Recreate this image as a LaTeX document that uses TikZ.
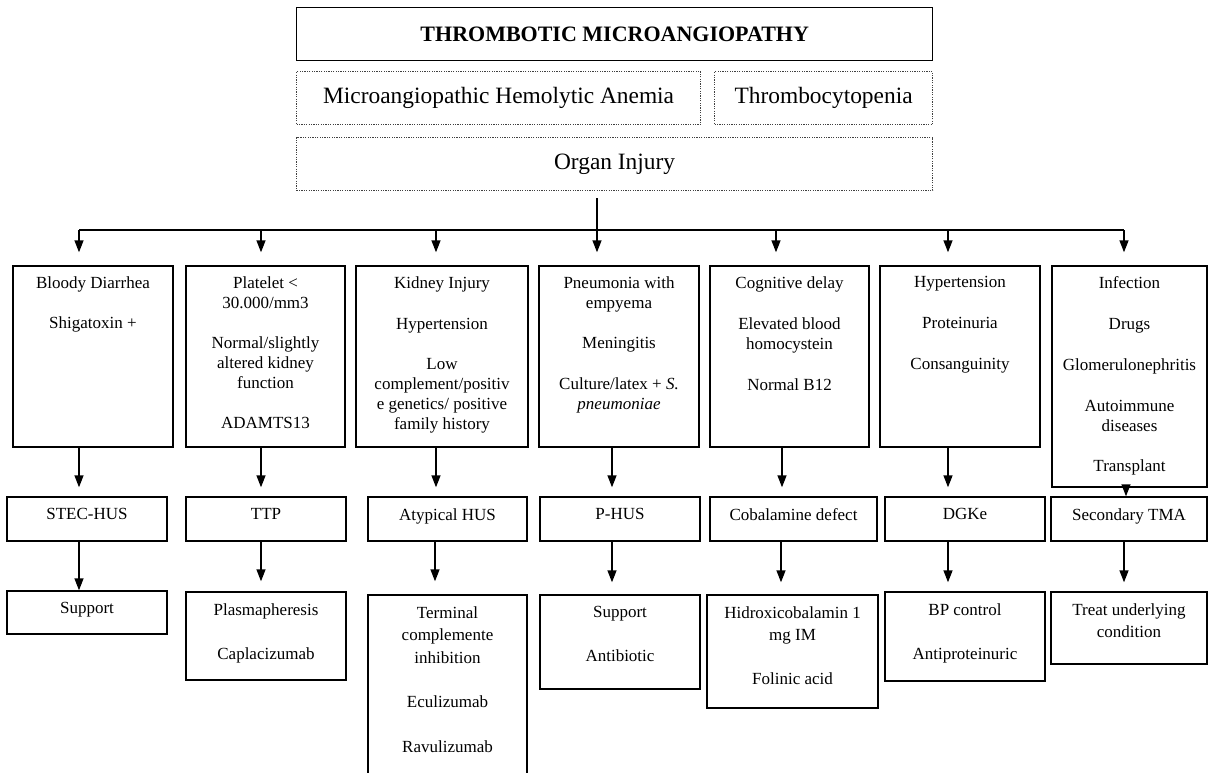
\documentclass[tikz,border=0pt]{standalone}
\usepackage{fontspec}
\setmainfont{Liberation Serif}
\usetikzlibrary{fit,arrows.meta}

\begin{document}
\begin{tikzpicture}[x=0.5pt, y=-0.5pt,
    box/.style={draw, line width=0.7pt, inner sep=0pt},
    dotbox/.style={draw=black!75, line width=0.6pt,
                   dash pattern=on 0.6pt off 0.6pt, inner sep=0pt},
    hdr/.style={anchor=north west, minimum height=26.5pt,
                font=\fontsize{11.7}{13}\selectfont},
    txt/.style={font=\fontsize{8.5}{10}\selectfont, align=center,
                anchor=north, inner sep=0pt},
    txtb/.style={txt, font=\fontsize{8.5}{11.2}\selectfont},
    arr/.style={line width=0.7pt, -{Triangle[width=4.5pt,length=6pt]}}]
\useasboundingbox (0,0) rectangle (1209,772);

% header
\node[box, hdr, minimum width=318pt,
      font=\bfseries\fontsize{11}{13}\selectfont] (tma) at (296,7) {THROMBOTIC MICROANGIOPATHY};
\node[dotbox, hdr, minimum width=202pt] (maha) at (296,71) {Microangiopathic Hemolytic Anemia};
\node[dotbox, hdr, minimum width=109pt] (thr) at (714,71) {Thrombocytopenia};
\node[dotbox, hdr, minimum width=318pt] (organ) at (296,137) {Organ Injury};

% clinical findings
\node[box, fit={(13,266) (173,447)}] (b1) {};
\node[box, fit={(186,266) (345,447)}] (b2) {};
\node[box, fit={(356,266) (528,447)}] (b3) {};
\node[box, fit={(539,266) (699,447)}] (b4) {};
\node[box, fit={(710,266) (869,447)}] (b5) {};
\node[box, fit={(880,266) (1040,447)}] (b6) {};
\node[box, fit={(1052,266) (1207,487)}] (b7) {};

\node[txt] (tb1) at ([yshift=-5.5pt]b1.north) {Bloody Diarrhea\\[10pt]Shigatoxin +};
\node[txt] (tb2) at ([yshift=-5.5pt]b2.north) {Platelet <\\30.000/mm3\\[10pt]Normal/slightly\\altered kidney\\function\\[10pt]ADAMTS13};
\node[txt] (tb3) at ([yshift=-5.5pt]b3.north) {Kidney Injury\\[10.5pt]Hypertension\\[10pt]Low\\complement/positiv\\e genetics/ positive\\family history};
\node[txt] (tb4) at ([yshift=-5.5pt]b4.north) {Pneumonia with\\empyema\\[10pt]Meningitis\\[10.5pt]Culture/latex + \textit{S.}\\\textit{pneumoniae}};
\node[txt] (tb5) at ([yshift=-5.5pt]b5.north) {Cognitive delay\\[10.5pt]Elevated blood\\homocystein\\[10.5pt]Normal B12};
\node[txt] (tb6) at ([yshift=-5.5pt]b6.north) {Hypertension\\[10.5pt]Proteinuria\\[10.5pt]Consanguinity};
\node[txt] (tb7) at ([yshift=-5.5pt]b7.north) {Infection\\[10.5pt]Drugs\\[10.5pt]Glomerulonephritis\\[10.5pt]Autoimmune\\diseases\\[10pt]Transplant};

% diagnosis
\node[box, fit={(7,497) (167,541)}] (c1) {};
\node[box, fit={(186,497) (346,541)}] (c2) {};
\node[box, fit={(368,497) (527,541)}] (c3) {};
\node[box, fit={(540,497) (700,541)}] (c4) {};
\node[box, fit={(710,497) (877,541)}] (c5) {};
\node[box, fit={(885,497) (1045,541)}] (c6) {};
\node[box, fit={(1051,497) (1207,541)}] (c7) {};

\node[txt] (tc1) at ([yshift=-6pt]c1.north) {STEC-HUS};
\node[txt] (tc2) at ([yshift=-6pt]c2.north) {TTP};
\node[txt] (tc3) at ([yshift=-6pt]c3.north) {Atypical HUS};
\node[txt] (tc4) at ([yshift=-6pt]c4.north) {P-HUS};
\node[txt] (tc5) at ([yshift=-6pt]c5.north) {Cobalamine defect};
\node[txt] (tc6) at ([yshift=-6pt]c6.north) {DGKe};
\node[txt] (tc7) at ([yshift=-6pt]c7.north) {Secondary TMA};

% treatment
\node[box, fit={(7,591) (167,634)}] (d1) {};
\node[box, fit={(186,592) (346,680)}] (d2) {};
\node[box, fit={(368,595) (527,800)}] (d3) {};
\node[box, fit={(540,595) (700,689)}] (d4) {};
\node[box, fit={(707,595) (878,708)}] (d5) {};
\node[box, fit={(885,592) (1045,681)}] (d6) {};
\node[box, fit={(1051,592) (1207,664)}] (d7) {};

\node[txtb] (td1) at ([yshift=-6pt]d1.north) {Support};
\node[txtb] (td2) at ([yshift=-6pt]d2.north) {Plasmapheresis\\[10.8pt]Caplacizumab};
\node[txtb] (td3) at ([yshift=-6pt]d3.north) {Terminal\\complemente\\inhibition\\[11pt]Eculizumab\\[11pt]Ravulizumab};
\node[txtb] (td4) at ([yshift=-6pt]d4.north) {Support\\[10.8pt]Antibiotic};
\node[txtb] (td5) at ([yshift=-6pt]d5.north) {Hidroxicobalamin 1\\mg IM\\[10.8pt]Folinic acid};
\node[txtb] (td6) at ([yshift=-6pt]d6.north) {BP control\\[10.8pt]Antiproteinuric};
\node[txtb] (td7) at ([yshift=-6pt]d7.north) {Treat underlying\\condition};

% connectors
\coordinate (stem) at (597,198);
\coordinate (bus) at (597,230);
\draw[line width=0.7pt] (stem) -- (bus);
\draw[line width=0.7pt] (79,230) coordinate (busL) -- (1124,230) coordinate (busR);
\foreach \i/\x in {1/79, 2/261, 3/436, 4/597, 5/776, 6/948, 7/1124}
  \draw[arr, shorten >=6.5pt] (\x,230) -- (b\i.north -| \x,0);
\foreach \i/\x/\s in {1/79/4.5pt, 2/261/4.5pt, 3/436/4.5pt, 4/612/4.5pt,
                      5/782/4.5pt, 6/948/4.5pt, 7/1126/0pt}
  \draw[arr, shorten >=\s] (b\i.south -| \x,0) -- (c\i.north -| \x,0);
\foreach \i/\x/\s in {1/79/0pt, 2/261/5pt, 3/435/6.5pt, 4/612/6pt,
                      5/781/6pt, 6/948/4.5pt, 7/1124/4.5pt}
  \draw[arr, shorten >=\s] (c\i.south -| \x,0) -- (d\i.north -| \x,0);
\end{tikzpicture}
\end{document}
